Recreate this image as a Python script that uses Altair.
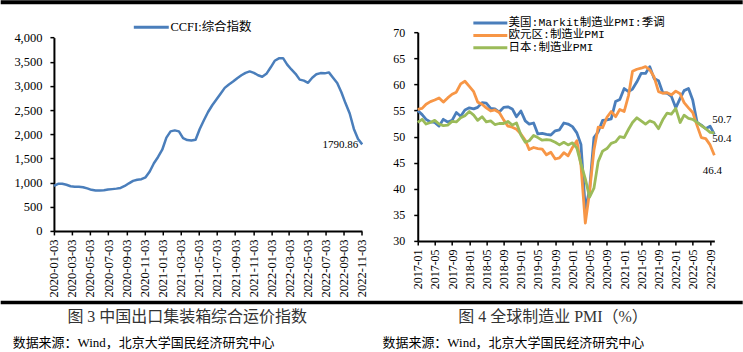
import altair as alt
import pandas as pd

# ---------------- data ----------------
ccfi_values = [930, 975, 975, 955, 925, 915, 915, 905, 880, 850,
               835, 835, 840, 855, 865, 875, 890, 930, 985, 1035,
               1060, 1070, 1110, 1230, 1400, 1530, 1680, 1930, 2060, 2080,
               2060, 1920, 1880, 1870, 1885, 2110, 2290, 2460, 2600, 2720,
               2840, 2960, 3030, 3090, 3160, 3220, 3270, 3300, 3270, 3220,
               3190, 3250, 3380, 3520, 3570, 3575, 3440, 3340, 3250, 3130,
               3110, 3065, 3170, 3240, 3265, 3260, 3280, 3170, 3060, 2870,
               2640, 2430, 2110, 1900, 1790.86]
ccfi_dates = pd.date_range("2020-01-03", periods=len(ccfi_values), freq="14D")
ccfi_ticks = ["2020-01-03", "2020-03-03", "2020-05-03", "2020-07-03", "2020-09-03",
              "2020-11-03", "2021-01-03", "2021-03-03", "2021-05-03", "2021-07-03",
              "2021-09-03", "2021-11-03", "2022-01-03", "2022-03-03", "2022-05-03",
              "2022-07-03", "2022-09-03", "2022-11-03"]
ccfi_name = "CCFI:综合指数"

pmi_months = pd.date_range("2017-01-01", "2022-10-01", freq="MS")
pmi_us = [55.0, 54.2, 53.3, 52.8, 52.7, 52.0, 53.3, 52.8, 53.1, 54.6, 53.9, 55.1,
          55.5, 55.3, 55.6, 56.5, 56.4, 55.4, 55.3, 54.7, 55.6, 55.7, 55.3, 53.8,
          54.9, 53.0, 52.4, 52.6, 50.5, 50.6, 50.4, 50.3, 51.1, 51.3, 52.6, 52.4,
          51.9, 50.7, 48.5, 36.1, 39.8, 49.8, 50.9, 53.1, 53.2, 53.4, 56.7, 57.1,
          59.2, 58.6, 59.1, 60.5, 62.1, 62.1, 63.4, 61.1, 60.7, 58.4, 58.3, 57.7,
          55.5, 57.3, 58.8, 59.2, 57.0, 52.7, 52.2, 51.5, 52.0, 50.4]
pmi_ez = [55.2, 55.4, 56.2, 56.7, 57.0, 57.4, 56.6, 57.4, 58.1, 58.5, 60.1, 60.6,
          59.6, 58.6, 56.6, 56.2, 55.5, 54.9, 55.1, 54.6, 53.2, 52.0, 51.8, 51.4,
          50.5, 49.3, 47.5, 47.9, 47.7, 47.6, 46.5, 47.0, 45.7, 45.9, 46.9, 46.3,
          47.9, 49.2, 44.5, 33.4, 39.4, 47.4, 51.8, 51.7, 53.7, 54.8, 53.8, 55.2,
          54.8, 57.9, 62.5, 62.9, 63.1, 63.4, 62.8, 61.4, 58.6, 58.3, 58.4, 58.0,
          58.7, 58.2, 56.5, 55.5, 54.6, 52.1, 49.8, 49.6, 48.4, 46.4]
pmi_jp = [52.7, 53.3, 52.4, 52.7, 53.1, 52.4, 52.1, 52.2, 52.9, 52.8, 53.6, 54.0,
          54.8, 54.1, 53.1, 53.8, 52.8, 53.0, 52.3, 52.5, 52.5, 52.9, 52.2, 52.6,
          50.3, 48.9, 49.2, 50.2, 49.8, 49.3, 49.4, 49.3, 48.9, 48.4, 48.9, 48.4,
          48.8, 47.8, 44.8, 41.9, 38.4, 40.1, 45.2, 47.2, 47.7, 48.7, 49.0, 50.0,
          49.8, 51.4, 52.7, 53.6, 53.0, 52.4, 53.0, 52.7, 51.5, 53.2, 54.5, 54.3,
          55.4, 52.7, 54.1, 53.5, 53.3, 52.7, 52.1, 51.5, 50.8, 50.7]
pmi_names = ["美国:Markit制造业PMI:季调", "欧元区:制造业PMI", "日本:制造业PMI"]
pmi_ticks = pd.date_range("2017-01-01", "2022-09-01", freq="4MS")

caption_left = "图 3  中国出口集装箱综合运价指数"
caption_right = "图 4 全球制造业 PMI（%）"
source_text = "数据来源：Wind，北京大学国民经济研究中心"

# ---------------- styles ----------------
SERIF = "Liberation Serif"
MIX = "Liberation Serif, Noto Sans CJK SC"
MONO = "Liberation Mono, Noto Sans CJK SC"
BLUE, ORANGE, GREEN = "#4A7EBB", "#F79646", "#9BBB59"
pmi_colors = [BLUE, ORANGE, GREEN]

WL, HL = 308.4, 199
WR, HR = 297, 209
OXL, OYL = 53.3, 32        # left plot origin on the page
OXR = 417                  # right plot origin on the page
PAGE_W = 743


def dt(d):
    d = pd.Timestamp(d)
    return alt.DateTime(year=d.year, month=d.month, date=d.day)


one = pd.DataFrame({"k": [0]})


def hbar(x0, x1, y0, y1):
    return alt.Chart(one).mark_rect(color="black").encode(
        x=alt.value(x0), x2=alt.value(x1), y=alt.value(y0), y2=alt.value(y1))


def label(txt, x, y, size, font, align="left", color="black"):
    return alt.Chart(one).mark_text(text=txt, align=align, baseline="middle",
                                    fontSize=size, font=font, color=color).encode(
        x=alt.value(x), y=alt.value(y))


def legend_line(x0, x1, y, color):
    return alt.Chart(one).mark_rule(color=color, strokeWidth=3).encode(
        x=alt.value(x0), x2=alt.value(x1), y=alt.value(y))


# ---------------- left panel ----------------
ccfi_df = pd.DataFrame({"date": ccfi_dates, "value": ccfi_values})

xL = alt.X("date:T",
           scale=alt.Scale(domain=[dt(ccfi_ticks[0]), dt(ccfi_ticks[-1])]),
           axis=alt.Axis(values=[dt(d) for d in ccfi_ticks], format="%Y-%m-%d",
                         labelAngle=270, labelAlign="right", labelBaseline="middle",
                         labelFontSize=12.5, labelPadding=4, labelFlush=False,
                         labelOverlap=False, title=None))
yL = alt.Y("value:Q",
           scale=alt.Scale(domain=[0, 4000], range=[HL, 5.4], nice=False, zero=False),
           axis=alt.Axis(values=list(range(0, 4001, 500)), format=",.0f",
                         labelFontSize=12.5, labelPadding=8, title=None))

ccfi_line = alt.Chart(ccfi_df).mark_line(color=BLUE, strokeWidth=2.5,
                                         strokeJoin="round").encode(x=xL, y=yL)
ccfi_last = alt.Chart(ccfi_df.tail(1)).mark_text(
    align="right", baseline="middle", dx=-4, dy=1, fontSize=11, font=SERIF,
    color="black").encode(x=xL, y=yL, text=alt.Text("value:Q", format=".2f"))

left = alt.layer(
    ccfi_line, ccfi_last,
    legend_line(133.3 - OXL, 168.3 - OXL, 27 - OYL, BLUE),
    label(ccfi_name, 170 - OXL, 27 - OYL, 12.5, MIX),
    hbar(-OXL, PAGE_W - OXL, -OYL, 4 - OYL),
    hbar(-OXL, PAGE_W - OXL, 301 - OYL, 304.5 - OYL),
    label(caption_left, 186.7 - OXL, 317 - OYL, 16, MIX, align="center", color="#333333"),
    label(source_text, 12 - OXL, 343.5 - OYL, 13, MIX),
).properties(width=WL, height=HL)

# ---------------- right panel ----------------
frames = []
for name, vals in zip(pmi_names, [pmi_us, pmi_ez, pmi_jp]):
    frames.append(pd.DataFrame({"month": pmi_months, "value": vals, "series": name}))
pmi_df = pd.concat(frames, ignore_index=True)

xR = alt.X("month:T",
           scale=alt.Scale(domain=[dt(pmi_months[0]), dt(pmi_months[-1])]),
           axis=alt.Axis(values=[dt(d) for d in pmi_ticks], format="%Y-%m",
                         labelAngle=270, labelAlign="right", labelBaseline="middle",
                         labelFontSize=12, labelPadding=4, labelFlush=False,
                         labelOverlap=False, title=None))
yR = alt.Y("value:Q",
           scale=alt.Scale(domain=[30, 70], nice=False, zero=False),
           axis=alt.Axis(values=list(range(30, 71, 5)), labelFontSize=12,
                         labelPadding=9, title=None))

pmi_layers = []
for name, color in zip(pmi_names, pmi_colors):
    pmi_layers.append(
        alt.Chart(pmi_df).transform_filter(alt.datum.series == name)
        .mark_line(color=color, strokeWidth=2.8, strokeJoin="round")
        .encode(x=xR, y=yR))

last_pts = pmi_df[pmi_df["month"] == pmi_months[-1]]
end_offsets = {pmi_names[0]: (-2, 5, "left"), pmi_names[1]: (-2, 16, "center"),
               pmi_names[2]: (-2, -13, "left")}
end_labels = []
for name in pmi_names:
    dx, dy, al = end_offsets[name]
    end_labels.append(
        alt.Chart(last_pts[last_pts["series"] == name]).mark_text(
            align=al, baseline="middle", dx=dx, dy=dy, fontSize=11, font=SERIF,
            color="black").encode(x=xR, y=yR, text=alt.Text("value:Q", format=".1f")))

legend_rows = [22.7, 35.2, 47.7]
legend_layers = []
for name, color, yy in zip(pmi_names, pmi_colors, legend_rows):
    legend_layers.append(legend_line(472.7 - OXR, 506.7 - OXR, yy - OYL, color))
    legend_layers.append(label(name, 508 - OXR, yy - OYL, 11.5, MONO))

right = alt.layer(
    *pmi_layers, *end_labels, *legend_layers,
    label(caption_right, 552.5 - OXR, 317 - OYL, 16, MIX, align="center", color="#333333"),
    label(source_text, 381.7 - OXR, 343.5 - OYL, 13, MIX),
).properties(width=WR, height=HR)

chart = alt.hconcat(left, right, spacing=OXR - OXL - WL, bounds="flush").properties(
    padding=0, background="white"
).configure_view(stroke=None).configure_axis(
    domainColor="black", domainWidth=2, tickColor="black", tickWidth=1.5, tickSize=4,
    labelColor="black", labelFont=SERIF, grid=False
)

chart.save("out.html", embed_options={"renderer": "svg", "actions": False})
